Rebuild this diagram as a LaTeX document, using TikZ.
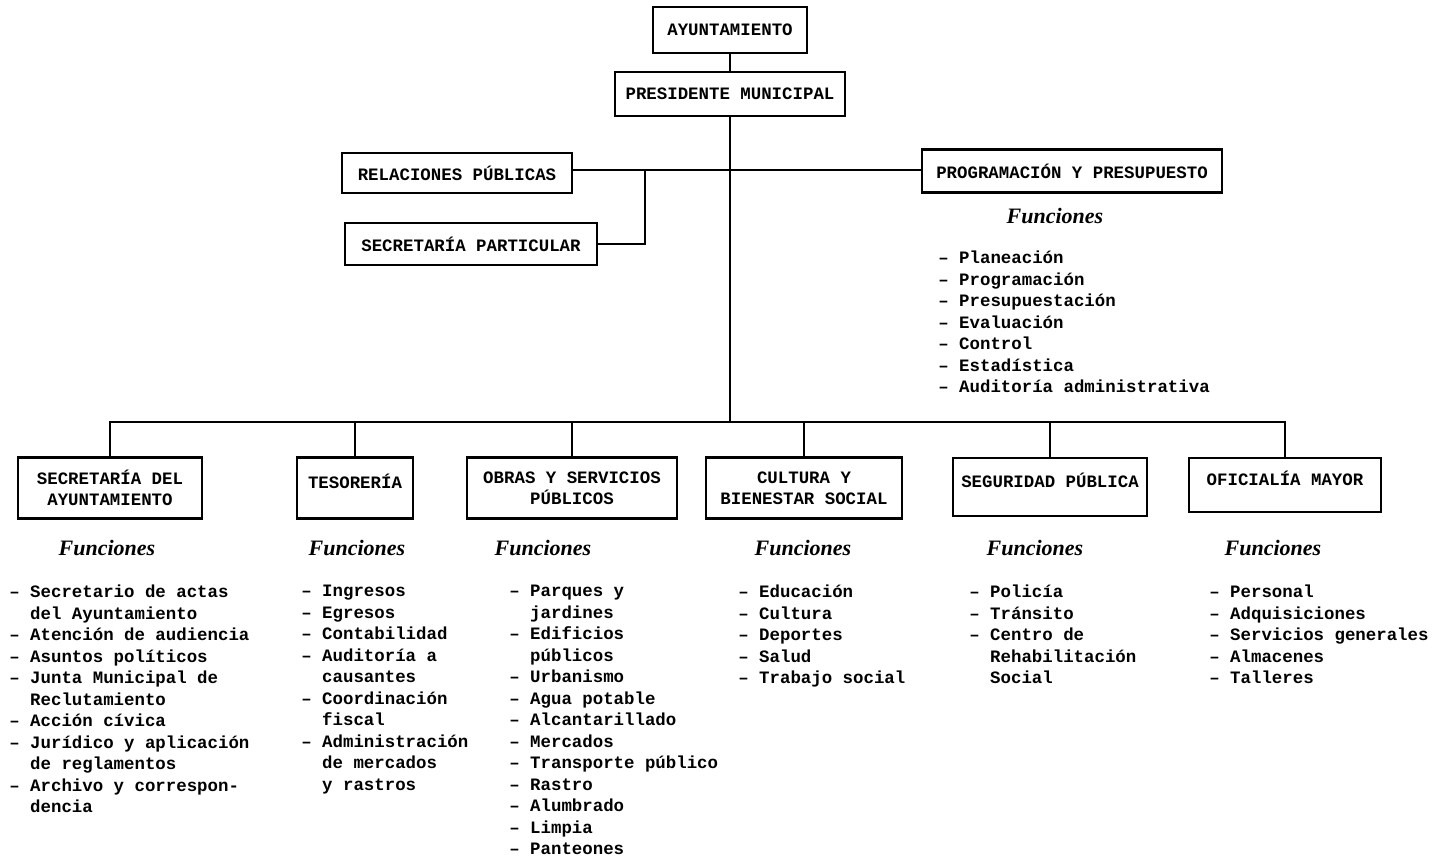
\documentclass[tikz,border=0pt]{standalone}
\usepackage{fontspec}
\setmainfont{Liberation Serif}
\newfontfamily\twfont{Liberation Mono}
\usetikzlibrary{calc}
\newcommand{\fnind}{\hphantom{– }}

\begin{document}
\begin{tikzpicture}[
	x=0.5pt,y=-0.5pt,
	line width=1.3pt,
	orgbox/.style={draw,line width=1.3pt,align=center,inner sep=0pt,
		font=\twfont\bfseries\fontsize{8.7}{10.4}\selectfont},
	upbox/.style={orgbox,text depth=7pt},
	fnlist/.style={anchor=north west,align=left,inner sep=0pt,
		font=\twfont\bfseries\fontsize{8.7}{10.75}\selectfont},
	fntitle/.style={inner sep=0pt,font=\bfseries\itshape\fontsize{11}{13}\selectfont}]
	\useasboundingbox (0,0) rectangle (1432,860);
	\node[orgbox,minimum width=77pt,minimum height=23pt] (ayun) at (730,30) {AYUNTAMIENTO};
	\node[orgbox,minimum width=115pt,minimum height=22pt] (pres) at (730,94) {PRESIDENTE MUNICIPAL};
	\node[orgbox,minimum width=115pt,minimum height=20pt] (relpub) at (457,173) {RELACIONES PÚBLICAS};
	\node[orgbox,minimum width=126pt,minimum height=21pt] (secpart) at (471,244) {SECRETARÍA PARTICULAR};
	\node[orgbox,minimum width=150pt,minimum height=21.5pt] (progpres) at (1072,171) {PROGRAMACIÓN Y PRESUPUESTO};
	\node[orgbox,minimum width=92pt,minimum height=30.5pt] (secayun) at (110,488) {SECRETARÍA DEL\\AYUNTAMIENTO};
	\node[upbox,minimum width=58pt,minimum height=30.5pt] (tesor) at (355,488) {TESORERÍA};
	\node[orgbox,minimum width=105pt,minimum height=30.5pt] (obras) at (572,488) {OBRAS Y SERVICIOS\\PÚBLICOS};
	\node[orgbox,minimum width=98pt,minimum height=30.5pt] (cultura) at (804,488) {CULTURA Y\\BIENESTAR SOCIAL};
	\node[upbox,minimum width=97pt,minimum height=29pt] (segur) at (1050,487) {SEGURIDAD PÚBLICA};
	\node[upbox,minimum width=96pt,minimum height=27pt] (ofic) at (1285,485) {OFICIALÍA MAYOR};
	\coordinate (hjoin) at (645,170);
	\coordinate (bus) at (730,422);
	\draw (ayun) -- (pres);
	\draw (pres.south) -- (bus);
	\draw (relpub.east |- hjoin) -- (progpres.west |- hjoin);
	\draw (secpart.east) -| (hjoin);
	\draw (secayun.north) |- (bus) -| (ofic.north);
	\foreach \unit in {tesor,obras,cultura,segur}
		\draw (\unit.north) -- (\unit.north |- bus);
	\node[fntitle] (fpp) at (1055,216) {Funciones};
	\node[fntitle] (fsec) at (107,548) {Funciones};
	\node[fntitle] (ftes) at (357,548) {Funciones};
	\node[fntitle] (fobr) at (543,548) {Funciones};
	\node[fntitle] (fcul) at (803,548) {Funciones};
	\node[fntitle] (fseg) at (1035,548) {Funciones};
	\node[fntitle] (fofi) at (1273,548) {Funciones};
	\node[fnlist] (lpp) at (937,250) {– Planeación\\– Programación\\– Presupuestación\\– Evaluación\\– Control\\– Estadística\\– Auditoría administrativa};
	\node[fnlist] (lsec) at (8,584) {– Secretario de actas\\\fnind del Ayuntamiento\\– Atención de audiencia\\– Asuntos políticos\\– Junta Municipal de\\\fnind Reclutamiento\\– Acción cívica\\– Jurídico y aplicación\\\fnind de reglamentos\\– Archivo y correspon-\\\fnind dencia};
	\node[fnlist] (ltes) at (300,584) {– Ingresos\\– Egresos\\– Contabilidad\\– Auditoría a\\\fnind causantes\\– Coordinación\\\fnind fiscal\\– Administración\\\fnind de mercados\\\fnind y rastros};
	\node[fnlist] (lobr) at (508,584) {– Parques y\\\fnind jardines\\– Edificios\\\fnind públicos\\– Urbanismo\\– Agua potable\\– Alcantarillado\\– Mercados\\– Transporte público\\– Rastro\\– Alumbrado\\– Limpia\\– Panteones};
	\node[fnlist] (lcul) at (737,584) {– Educación\\– Cultura\\– Deportes\\– Salud\\– Trabajo social};
	\node[fnlist] (lseg) at (968,584) {– Policía\\– Tránsito\\– Centro de\\\fnind Rehabilitación\\\fnind Social};
	\node[fnlist] (lofi) at (1208,584) {– Personal\\– Adquisiciones\\– Servicios generales\\– Almacenes\\– Talleres};
\end{tikzpicture}
\end{document}
